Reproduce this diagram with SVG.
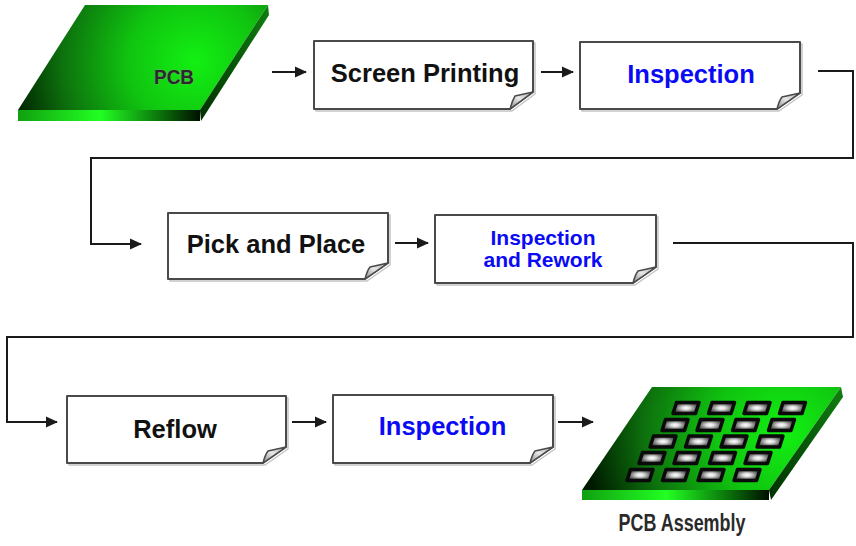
<svg xmlns="http://www.w3.org/2000/svg" width="856" height="546" viewBox="0 0 856 546">
<style>
.box{fill:#fff;stroke:#4a4a4a;stroke-width:2;stroke-linejoin:round}
.shadow{fill:none;stroke:#c4c4c4;stroke-width:1.5;stroke-linejoin:round}
.flap{fill:url(#flapGrad);stroke:#4a4a4a;stroke-width:1.5;stroke-linejoin:round}
.lbl{font-family:"Liberation Sans",Arial,sans-serif;font-weight:bold;font-size:25.5px;text-anchor:middle;fill:#111}
.blue{fill:#0a0af5}
.small{font-size:21px}
.narrow{font-family:"Liberation Sans Narrow","Liberation Sans",Arial,sans-serif;font-weight:bold;text-anchor:middle;fill:#2a2a2a}
.conn{fill:none;stroke:#1a1a1a;stroke-width:2}
.chip{stroke:#0a0a0a;stroke-width:3.5;stroke-linejoin:round;fill:url(#chipGrad)}
</style>
<defs>
<marker id="arrow" markerUnits="userSpaceOnUse" markerWidth="12" markerHeight="12" viewBox="0 0 12 12" refX="11" refY="6" orient="auto">
<path d="M0,0.5 L12,6 L0,11.5 Z" fill="#1a1a1a"/>
</marker>
<linearGradient id="flapGrad" x1="0" y1="1" x2="1" y2="0">
<stop offset="0" stop-color="#888"/>
<stop offset="0.5" stop-color="#e8e8e8"/>
<stop offset="1" stop-color="#aaa"/>
</linearGradient>
<radialGradient id="topGrad1" gradientUnits="userSpaceOnUse" cx="195" cy="62" r="190">
<stop offset="0" stop-color="#12f012"/>
<stop offset="0.35" stop-color="#10c410"/>
<stop offset="0.7" stop-color="#0d720d"/>
<stop offset="1" stop-color="#001a00"/>
</radialGradient>
<radialGradient id="topGrad2" gradientUnits="userSpaceOnUse" cx="785" cy="432" r="200">
<stop offset="0" stop-color="#12f012"/>
<stop offset="0.35" stop-color="#10c410"/>
<stop offset="0.7" stop-color="#0d720d"/>
<stop offset="1" stop-color="#001a00"/>
</radialGradient>
<linearGradient id="frontGrad" x1="0" y1="0" x2="1" y2="0">
<stop offset="0" stop-color="#10a010"/>
<stop offset="0.45" stop-color="#22ff22"/>
<stop offset="0.75" stop-color="#0c800c"/>
<stop offset="1" stop-color="#001000"/>
</linearGradient>
<linearGradient id="sideGrad" x1="0" y1="1" x2="1" y2="0">
<stop offset="0" stop-color="#003000"/>
<stop offset="1" stop-color="#108010"/>
</linearGradient>
<radialGradient id="chipGrad" cx="0.5" cy="0.5" r="0.6">
<stop offset="0" stop-color="#ffffff"/>
<stop offset="0.25" stop-color="#dcdcdc"/>
<stop offset="0.6" stop-color="#777777"/>
<stop offset="1" stop-color="#1e1e1e"/>
</radialGradient>
<polygon id="chip" class="chip" points="-9.5,-5.5 13,-5.5 9.5,5.5 -13,5.5"/>
</defs>

<rect width="856" height="546" fill="#fff"/>

<g id="connectors">
<path class="conn" d="M272,72 H306" marker-end="url(#arrow)"/>
<path class="conn" d="M541,72 H573" marker-end="url(#arrow)"/>
<path class="conn" d="M818,71 H853 V158 H91 V244 H141" marker-end="url(#arrow)"/>
<path class="conn" d="M395,243 H428" marker-end="url(#arrow)"/>
<path class="conn" d="M673,243 H853 V337 H7 V422 H57" marker-end="url(#arrow)"/>
<path class="conn" d="M292,422 H326" marker-end="url(#arrow)"/>
<path class="conn" d="M558,422 H593" marker-end="url(#arrow)"/>
</g>

<g id="node-pcb">
<polygon points="85,5 268,5 200,110 18,110" fill="url(#topGrad1)"/>
<polygon points="18,110 200,110 200,121 18,121" fill="url(#frontGrad)"/>
<polygon points="268,5 269,15 201,121 200,110" fill="url(#sideGrad)"/>
<text class="narrow" x="174" y="84" font-size="21" textLength="40" lengthAdjust="spacingAndGlyphs" stroke="#9a9a9a" stroke-width="0.6" paint-order="stroke">PCB</text>
</g>

<g id="node-screen-printing">
<path class="shadow" d="M316,43 H535 V94 L512,111 H316 Z"/>
<path class="box" d="M314,41 H533 V92 L510,109 H314 Z"/>
<path class="flap" d="M510,109 Q512,101 515,96 L533,92 Z"/>
<text class="lbl" x="425" y="82">Screen Printing</text>
</g>

<g id="node-inspection-1">
<path class="shadow" d="M582,44 H802 V95 L779,111 H582 Z"/>
<path class="box" d="M580,42 H800 V93 L777,109 H580 Z"/>
<path class="flap" d="M777,109 Q779,101 782,97 L800,93 Z"/>
<text class="lbl blue" x="691" y="83">Inspection</text>
</g>

<g id="node-pick-place">
<path class="shadow" d="M170,215 H390 V265 L367,281 H170 Z"/>
<path class="box" d="M168,213 H388 V263 L365,279 H168 Z"/>
<path class="flap" d="M365,279 Q367,271 370,267 L388,263 Z"/>
<text class="lbl" x="276" y="253">Pick and Place</text>
</g>

<g id="node-inspection-rework">
<path class="shadow" d="M437,217 H658 V269 L635,285 H437 Z"/>
<path class="box" d="M435,215 H656 V267 L633,283 H435 Z"/>
<path class="flap" d="M633,283 Q635,275 638,271 L656,267 Z"/>
<text class="lbl blue small" x="543" y="245">Inspection</text>
<text class="lbl blue small" x="543" y="267">and Rework</text>
</g>

<g id="node-reflow">
<path class="shadow" d="M69,398 H288 V449 L265,465 H69 Z"/>
<path class="box" d="M67,396 H286 V447 L263,463 H67 Z"/>
<path class="flap" d="M263,463 Q265,455 268,451 L286,447 Z"/>
<text class="lbl" x="175" y="438">Reflow</text>
</g>

<g id="node-inspection-2">
<path class="shadow" d="M335,397 H555 V449 L532,465 H335 Z"/>
<path class="box" d="M333,395 H553 V447 L530,463 H333 Z"/>
<path class="flap" d="M530,463 Q532,455 535,451 L553,447 Z"/>
<text class="lbl blue" x="442.5" y="435">Inspection</text>
</g>

<g id="node-pcb-assembly">
<polygon points="652,387 841,387 769,490 582,490" fill="url(#topGrad2)"/>
<polygon points="582,490 769,490 769,500 582,500" fill="url(#frontGrad)"/>
<polygon points="841,387 843,397 771,500 769,490" fill="url(#sideGrad)"/>
<use href="#chip" x="686" y="408"/>
<use href="#chip" x="721.5" y="408"/>
<use href="#chip" x="757" y="408"/>
<use href="#chip" x="792.5" y="408"/>
<use href="#chip" x="675" y="425"/>
<use href="#chip" x="710" y="425"/>
<use href="#chip" x="745.5" y="425"/>
<use href="#chip" x="781.5" y="425"/>
<use href="#chip" x="663" y="441.5"/>
<use href="#chip" x="698.5" y="441.5"/>
<use href="#chip" x="734" y="441.5"/>
<use href="#chip" x="770" y="441.5"/>
<use href="#chip" x="652" y="458"/>
<use href="#chip" x="687" y="458"/>
<use href="#chip" x="722.5" y="458"/>
<use href="#chip" x="758" y="458"/>
<use href="#chip" x="640" y="475"/>
<use href="#chip" x="675.5" y="475"/>
<use href="#chip" x="711" y="475"/>
<use href="#chip" x="747" y="475"/>
<text class="narrow" x="682" y="531" font-size="23" textLength="127" lengthAdjust="spacingAndGlyphs">PCB Assembly</text>
</g>
</svg>
